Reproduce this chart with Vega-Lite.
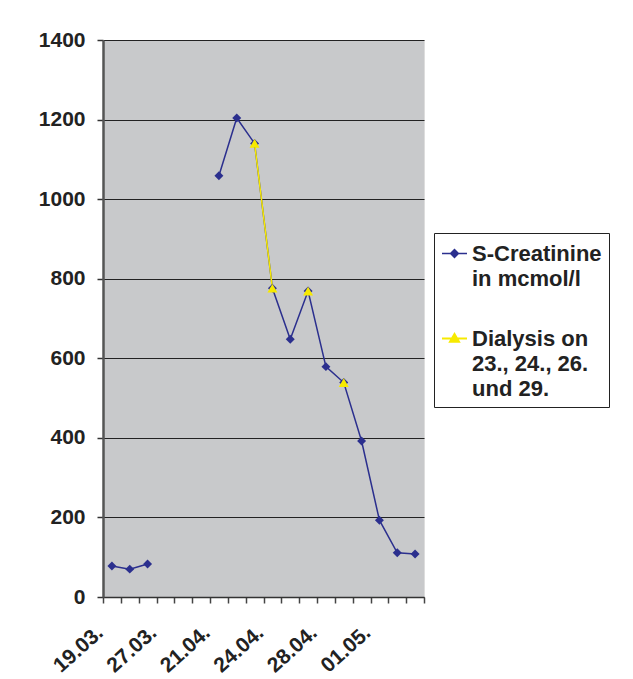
{
  "$schema": "https://vega.github.io/schema/vega-lite/v6.json",
  "width": 321,
  "height": 557,
  "autosize": "none",
  "padding": {"left": 103, "top": 40, "right": 209, "bottom": 82},
  "background": "white",
  "config": {
    "view": {"fill": "#c8c9cb", "stroke": "#dddddd", "strokeWidth": 1},
    "font": "Liberation Sans"
  },
  "data": {
    "values": [
      {"date": "19.03.", "series": "S-Creatinine|in mcmol/l", "value": 78},
      {"date": "22.03.", "series": "S-Creatinine|in mcmol/l", "value": 70},
      {"date": "25.03.", "series": "S-Creatinine|in mcmol/l", "value": 83},
      {"date": "27.03.", "series": "S-Creatinine|in mcmol/l", "value": null},
      {"date": "05.04.", "series": "S-Creatinine|in mcmol/l", "value": null},
      {"date": "14.04.", "series": "S-Creatinine|in mcmol/l", "value": null},
      {"date": "21.04.", "series": "S-Creatinine|in mcmol/l", "value": 1059},
      {"date": "22.04.", "series": "S-Creatinine|in mcmol/l", "value": 1204},
      {"date": "23.04.", "series": "S-Creatinine|in mcmol/l", "value": 1140},
      {"date": "24.04.", "series": "S-Creatinine|in mcmol/l", "value": 776},
      {"date": "25.04.", "series": "S-Creatinine|in mcmol/l", "value": 648},
      {"date": "26.04.", "series": "S-Creatinine|in mcmol/l", "value": 769},
      {"date": "28.04.", "series": "S-Creatinine|in mcmol/l", "value": 579},
      {"date": "29.04.", "series": "S-Creatinine|in mcmol/l", "value": 539},
      {"date": "30.04.", "series": "S-Creatinine|in mcmol/l", "value": 392},
      {"date": "01.05.", "series": "S-Creatinine|in mcmol/l", "value": 193},
      {"date": "02.05.", "series": "S-Creatinine|in mcmol/l", "value": 111},
      {"date": "03.05.", "series": "S-Creatinine|in mcmol/l", "value": 108},
      {"date": "23.04.", "series": "Dialysis on|23., 24., 26.|und 29.", "value": 1140},
      {"date": "24.04.", "series": "Dialysis on|23., 24., 26.|und 29.", "value": 776},
      {"date": "25.04.", "series": "Dialysis on|23., 24., 26.|und 29.", "value": null},
      {"date": "26.04.", "series": "Dialysis on|23., 24., 26.|und 29.", "value": 769},
      {"date": "28.04.", "series": "Dialysis on|23., 24., 26.|und 29.", "value": null},
      {"date": "29.04.", "series": "Dialysis on|23., 24., 26.|und 29.", "value": 539}
    ]
  },
  "encoding": {
    "x": {
      "field": "date",
      "type": "ordinal",
      "sort": ["19.03.", "22.03.", "25.03.", "27.03.", "05.04.", "14.04.", "21.04.", "22.04.", "23.04.", "24.04.", "25.04.", "26.04.", "28.04.", "29.04.", "30.04.", "01.05.", "02.05.", "03.05."],
      "scale": {"type": "band", "paddingInner": 0, "paddingOuter": 0},
      "axis": {
        "title": null,
        "labelExpr": "indexof(['19.03.','27.03.','21.04.','24.04.','28.04.','01.05.'], datum.value) >= 0 ? datum.label : ''",
        "labelAngle": -42,
        "labelAlign": "right",
        "labelBaseline": "alphabetic",
        "labelPadding": 31,
        "labelOffset": -8,
        "labelFontSize": 21,
        "labelFontWeight": "bold",
        "labelColor": "#222222",
        "labelOverlap": false,
        "tickBand": "extent",
        "tickSize": 6,
        "tickColor": "#444444",
        "tickWidth": 1.5,
        "domainColor": "#333333",
        "domainWidth": 1.5,
        "grid": false
      }
    },
    "y": {
      "field": "value",
      "type": "quantitative",
      "scale": {"domain": [0, 1400], "nice": false},
      "axis": {
        "title": null,
        "values": [0, 200, 400, 600, 800, 1000, 1200, 1400],
        "format": "d",
        "labelFontSize": 21,
        "labelFontWeight": "bold",
        "labelColor": "#222222",
        "labelPadding": 12,
        "tickSize": 6,
        "tickColor": "#333333",
        "tickWidth": 1.5,
        "domainColor": "#555555",
        "domainWidth": 2.5,
        "gridColor": "#222222",
        "gridWidth": 1.2
      }
    },
    "color": {
      "field": "series",
      "type": "nominal",
      "sort": ["S-Creatinine|in mcmol/l", "Dialysis on|23., 24., 26.|und 29."],
      "scale": {"domain": ["S-Creatinine|in mcmol/l", "Dialysis on|23., 24., 26.|und 29."], "range": ["#2b2f8e", "#f7ea00"]},
      "legend": {
        "orient": "none",
        "legendX": 331,
        "legendY": 193,
        "title": null,
        "strokeColor": "#222222",
        "fillColor": "white",
        "padding": 7,
        "labelExpr": "split(datum.label, '|')",
        "labelFontSize": 22,
        "labelFontWeight": "bold",
        "labelColor": "#222222",
        "labelLimit": 300,
        "labelOffset": 4,
        "rowPadding": 35,
        "symbolSize": 625,
        "encode": {
          "symbols": {
            "update": {
              "shape": {"signal": "datum.value == 'S-Creatinine|in mcmol/l' ? 'M-1,0H1M0,-0.32L0.32,0L0,0.32L-0.32,0Z' : 'M-1,0H1M0,-0.36L0.36,0.26L-0.36,0.26Z'"},
              "stroke": {"scale": "color", "field": "value"},
              "fill": {"scale": "color", "field": "value"},
              "strokeWidth": {"value": 1.5},
              "opacity": {"value": 1}
            }
          },
          "labels": {
            "update": {"lineHeight": {"value": 25}, "fontWeight": {"value": "bold"}}
          }
        }
      }
    }
  },
  "layer": [
    {
      "mark": {"type": "line", "strokeWidth": 1.5},
      "encoding": {
        "strokeWidth": {"field": "series", "type": "nominal", "scale": {"domain": ["S-Creatinine|in mcmol/l", "Dialysis on|23., 24., 26.|und 29."], "range": [1.4, 2]}, "legend": null}
      }
    },
    {
      "transform": [{"filter": "datum.series == 'S-Creatinine|in mcmol/l'"}],
      "mark": {"type": "point", "filled": true, "opacity": 1, "size": 80, "shape": "diamond"}
    },
    {
      "transform": [{"filter": "datum.series != 'S-Creatinine|in mcmol/l'"}],
      "mark": {"type": "point", "filled": true, "opacity": 1, "size": 100, "shape": "triangle-up"}
    }
  ]
}
